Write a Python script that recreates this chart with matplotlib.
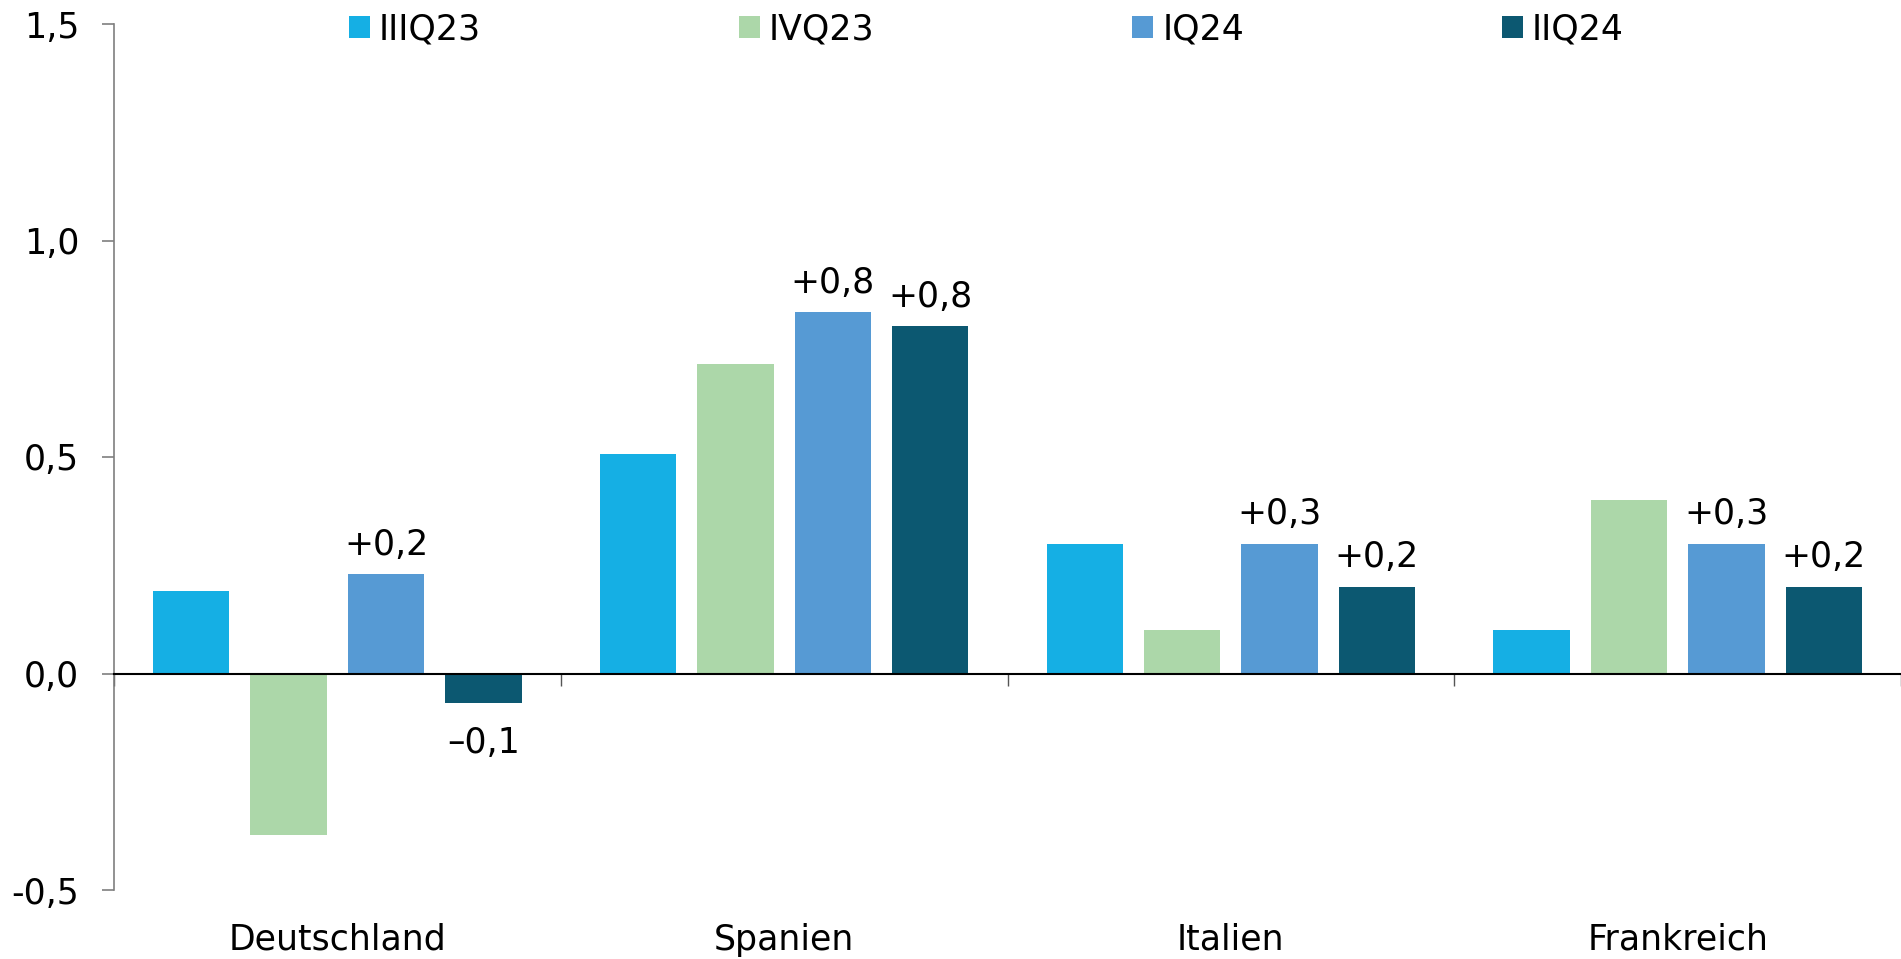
import matplotlib.pyplot as plt
import numpy as np
from matplotlib.patches import Patch

plt.rcParams.update({
    "font.family": ["DejaVu Sans"],
    "font.size": 25,
})

countries = ["Deutschland", "Spanien", "Italien", "Frankreich"]
quarters = ["IIIQ23", "IVQ23", "IQ24", "IIQ24"]
iiiq23 = [0.19, 0.506, 0.30, 0.10]
ivq23 = [-0.372, 0.714, 0.10, 0.40]
iq24 = [0.229, 0.834, 0.30, 0.30]
iiq24 = [-0.067, 0.802, 0.20, 0.20]
colors = ["#15AFE4", "#ACD7A9", "#569AD4", "#0C5871"]

# labels shown over the last two bars of each group
lab_iq24 = ["+0,2", "+0,8", "+0,3", "+0,3"]
lab_iiq24 = ["\u20130,1", "+0,8", "+0,2", "+0,2"]

yticks = [-0.5, 0.0, 0.5, 1.0, 1.5]
ytick_labels = ["-0,5", "0,0", "0,5", "1,0", "1,5"]

fig = plt.figure(figsize=(19.01, 9.59), dpi=100)
ax = fig.add_axes([114 / 1901, 69 / 959, 1 - 114 / 1901, 866 / 959])

x = np.arange(len(countries))
w = 0.171
offsets = np.array([-1.5, -0.5, 0.5, 1.5]) * 0.218
series = [iiiq23, ivq23, iq24, iiq24]
bars = []
for vals, off, c in zip(series, offsets, colors):
    bars.append(ax.bar(x + off, vals, w, color=c, zorder=2))

for rect, txt in zip(bars[2], lab_iq24):
    h = rect.get_height()
    ax.annotate(txt, (rect.get_x() + rect.get_width() / 2, h),
                xytext=(0, 14), textcoords="offset points",
                ha="center", va="baseline", fontsize=25)
for rect, txt in zip(bars[3], lab_iiq24):
    h = rect.get_height()
    dy = 14 if h >= 0 else -36
    ax.annotate(txt, (rect.get_x() + rect.get_width() / 2, h),
                xytext=(0, dy), textcoords="offset points",
                ha="center", va="baseline", fontsize=25)

ax.set_xlim(-0.5, -0.5 + (1901 - 114) / 450)
ax.set_ylim(-0.5, 1.5)

ax.spines["top"].set_visible(False)
ax.spines["right"].set_visible(False)
ax.spines["left"].set_color("#7f7f7f")
ax.spines["left"].set_linewidth(1.2)
ax.spines["bottom"].set_position(("data", 0))
ax.spines["bottom"].set_color("black")
ax.spines["bottom"].set_linewidth(1.5)
ax.spines["bottom"].set_zorder(3)

ax.set_yticks(yticks)
ax.set_yticklabels(ytick_labels)
ax.tick_params(axis="y", length=8.6, width=1.2, color="#7f7f7f", pad=16.5,
               labelsize=25)

ax.set_xticks(np.arange(len(countries) + 1) - 0.5)
ax.set_xticklabels([])
ax.tick_params(axis="x", direction="out", length=8.5, width=1.0,
               color="#555555")
for xi, name in zip(x, countries):
    ax.text(xi, -0.069, name, transform=ax.get_xaxis_transform(),
            ha="center", va="baseline", fontsize=25)

handles = [Patch(facecolor=c, edgecolor="none") for c in colors]
fig.legend(handles, quarters, loc="center left",
           bbox_to_anchor=(349 / 1901, 1 - 29.5 / 959),
           bbox_transform=fig.transFigure, ncol=4, frameon=False,
           fontsize=25, handlelength=0.6, handleheight=0.6,
           handletextpad=0.26, columnspacing=7.43, borderpad=0,
           borderaxespad=0)

plt.savefig("out.png", dpi=100)
